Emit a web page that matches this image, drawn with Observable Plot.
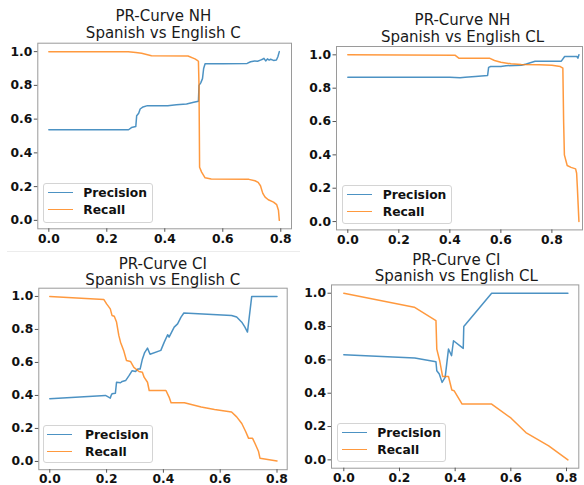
<!DOCTYPE html>
<html><head><meta charset="utf-8">
<script src="https://cdn.jsdelivr.net/npm/d3@7"></script>
<script src="https://cdn.jsdelivr.net/npm/@observablehq/plot@0.6"></script>
<style>
html,body{margin:0;padding:0;background:#fff;}
#root{position:relative;width:584px;height:485px;overflow:hidden;font-family:"DejaVu Sans",sans-serif;background:#fff;}
.panel{position:absolute;}
.title{position:absolute;transform:translate(-50%,-50%);font-size:15px;white-space:pre;text-align:center;color:#1a1a1a;}
.legend{position:absolute;background:#fff;border:1px solid #d4d4d4;border-radius:3px;box-sizing:border-box;}
.lgline{position:absolute;height:0;border-top:1.8px solid;opacity:0.8;}
.lgtext{position:absolute;transform:translateY(-50%);font-size:12.3px;font-weight:bold;color:#111;line-height:1;white-space:nowrap;}
.sep{position:absolute;height:1px;background:#ececec;}
</style>
</head><body>
<div id="root"></div>
<script>
// ---- text ----
const titleLine1 = ["PR-Curve NH", "PR-Curve NH", "PR-Curve CI", "PR-Curve CI"];
const titleLine2 = ["Spanish vs English C", "Spanish vs English CL", "Spanish vs English C", "Spanish vs English CL"];
const seriesNames = ["Precision", "Recall"];
const seriesColors = ["#1f77b4", "#ff7f0e"];
const xTicks = [0, 0.2, 0.4, 0.6, 0.8];
const yTicks = [0, 0.2, 0.4, 0.6, 0.8, 1.0];

// ---- NH, Spanish vs English C ----
const nhC_precisionX = [0, 0.275, 0.285, 0.30, 0.303, 0.31, 0.315, 0.325, 0.34, 0.41, 0.44, 0.475, 0.50, 0.516, 0.518, 0.524, 0.530, 0.534, 0.539, 0.60, 0.684, 0.696, 0.71, 0.72, 0.73, 0.737, 0.742, 0.748, 0.754, 0.76, 0.765, 0.775, 0.785, 0.79, 0.795];
const nhC_precisionY = [0.537, 0.537, 0.55, 0.556, 0.62, 0.635, 0.66, 0.672, 0.68, 0.68, 0.685, 0.69, 0.70, 0.706, 0.80, 0.815, 0.84, 0.90, 0.928, 0.928, 0.93, 0.94, 0.945, 0.943, 0.95, 0.955, 0.96, 0.945, 0.957, 0.95, 0.955, 0.948, 0.95, 0.97, 1.0];
const nhC_recallX = [0, 0.274, 0.30, 0.32, 0.354, 0.48, 0.504, 0.512, 0.516, 0.518, 0.520, 0.527, 0.539, 0.56, 0.69, 0.711, 0.722, 0.73, 0.738, 0.746, 0.757, 0.775, 0.786, 0.792, 0.795];
const nhC_recallY = [1.0, 1.0, 0.995, 0.99, 0.976, 0.974, 0.957, 0.948, 0.943, 0.80, 0.315, 0.286, 0.252, 0.245, 0.243, 0.235, 0.225, 0.205, 0.16, 0.138, 0.122, 0.108, 0.093, 0.06, 0.0];

// ---- NH, Spanish vs English CL ----
const nhCL_precisionX = [0, 0.40, 0.44, 0.46, 0.50, 0.548, 0.552, 0.56, 0.60, 0.62, 0.68, 0.70, 0.734, 0.80, 0.837, 0.85, 0.88, 0.898, 0.902, 0.906];
const nhCL_precisionY = [0.866, 0.866, 0.862, 0.865, 0.87, 0.876, 0.925, 0.93, 0.93, 0.935, 0.937, 0.945, 0.962, 0.962, 0.962, 0.99, 0.99, 0.99, 0.98, 1.0];
const nhCL_recallX = [0, 0.42, 0.435, 0.555, 0.575, 0.60, 0.64, 0.68, 0.75, 0.80, 0.833, 0.843, 0.846, 0.849, 0.86, 0.875, 0.893, 0.897, 0.90, 0.903, 0.906];
const nhCL_recallY = [1.0, 0.998, 0.98, 0.98, 0.966, 0.956, 0.946, 0.942, 0.94, 0.938, 0.93, 0.92, 0.60, 0.40, 0.336, 0.325, 0.316, 0.29, 0.2, 0.1, 0.0];

// ---- CI, Spanish vs English C ----
const ciC_precisionX = [0, 0.196, 0.207, 0.213, 0.216, 0.219, 0.231, 0.235, 0.249, 0.255, 0.267, 0.279, 0.29, 0.302, 0.31, 0.318, 0.326, 0.334, 0.344, 0.353, 0.391, 0.403, 0.415, 0.42, 0.429, 0.438, 0.45, 0.462, 0.472, 0.64, 0.658, 0.676, 0.687, 0.696, 0.711, 0.80];
const ciC_precisionY = [0.38, 0.40, 0.39, 0.384, 0.40, 0.41, 0.414, 0.48, 0.477, 0.485, 0.49, 0.52, 0.55, 0.545, 0.56, 0.56, 0.62, 0.66, 0.687, 0.65, 0.673, 0.723, 0.768, 0.753, 0.784, 0.814, 0.834, 0.875, 0.90, 0.885, 0.875, 0.844, 0.814, 0.784, 1.0, 1.0];
const ciC_recallX = [0, 0.19, 0.2, 0.213, 0.219, 0.227, 0.235, 0.243, 0.249, 0.26, 0.27, 0.284, 0.296, 0.314, 0.326, 0.332, 0.344, 0.35, 0.409, 0.42, 0.427, 0.474, 0.533, 0.58, 0.64, 0.658, 0.676, 0.69, 0.70, 0.714, 0.723, 0.735, 0.74, 0.80];
const ciC_recallY = [1.0, 0.982, 0.955, 0.925, 0.885, 0.88, 0.845, 0.764, 0.723, 0.673, 0.612, 0.606, 0.57, 0.545, 0.541, 0.511, 0.48, 0.43, 0.43, 0.39, 0.356, 0.356, 0.33, 0.315, 0.30, 0.27, 0.23, 0.18, 0.14, 0.14, 0.107, 0.06, 0.02, 0.003];

// ---- CI, Spanish vs English CL ----
const ciCL_precisionX = [0, 0.255, 0.331, 0.334, 0.343, 0.353, 0.364, 0.376, 0.387, 0.394, 0.429, 0.431, 0.531, 0.805];
const ciCL_precisionY = [0.631, 0.611, 0.589, 0.535, 0.515, 0.465, 0.495, 0.665, 0.625, 0.715, 0.669, 0.80, 1.0, 1.0];
const ciCL_recallX = [0, 0.253, 0.331, 0.334, 0.345, 0.355, 0.376, 0.388, 0.396, 0.425, 0.531, 0.601, 0.654, 0.736, 0.805];
const ciCL_recallY = [1.0, 0.916, 0.836, 0.665, 0.59, 0.50, 0.50, 0.419, 0.415, 0.335, 0.335, 0.25, 0.164, 0.084, 0.0];

const seriesX = [[nhC_precisionX, nhC_recallX], [nhCL_precisionX, nhCL_recallX], [ciC_precisionX, ciC_recallX], [ciCL_precisionX, ciCL_recallX]];
const seriesY = [[nhC_precisionY, nhC_recallY], [nhCL_precisionY, nhCL_recallY], [ciC_precisionY, ciC_recallY], [ciCL_precisionY, ciCL_recallY]];

// ---- layout (pixel geometry of each subplot) ----
const layout = [
  {left: 0, top: 0, w: 300, h: 245, frame: [37.3, 291, 42.7, 228.3], xDomain: [-0.038, 0.837],
   title: [163.3, 25.5, 17.6], legend: {box: [43.3, 182.7, 110, 40], line: [48.3, 25], rows: [192.7, 210], text: 83.3}},
  {left: 292, top: 0, w: 292, h: 245, frame: [336, 582, 46, 229.4], xDomain: [-0.0443, 0.920],
   title: [462.5, 29, 16.6], legend: {box: [341.7, 185, 110, 39], line: [347.3, 24.4], rows: [195, 211.7], text: 382.7}},
  {left: 0, top: 245, w: 300, h: 240, frame: [38.3, 286.7, 287.7, 469.2], xDomain: [-0.0387, 0.8359],
   title: [162.8, 272, 16], legend: {box: [43.3, 425, 110, 38], line: [46.7, 25], rows: [435, 451.7], text: 85}},
  {left: 292, top: 245, w: 292, h: 240, frame: [331, 578.3, 284.4, 467.7], xDomain: [-0.0442, 0.8441],
   title: [456.3, 268, 16], legend: {box: [336.7, 422.7, 109.3, 39], line: [341.7, 25], rows: [433.3, 450], text: 377.3}}
];

const root = document.getElementById("root");
const sep = document.createElement("div");
sep.className = "sep";
sep.style.left = "7px"; sep.style.top = "251px"; sep.style.width = "293px";
root.appendChild(sep);

layout.forEach((L, i) => {
  const [fl, fr, ft, fb] = L.frame;
  const lines = [0, 1].map(s => {
    const data = seriesX[i][s].map((x, k) => ({x, y: seriesY[i][s][k]}));
    return Plot.line(data, {x: "x", y: "y", stroke: seriesColors[s], strokeWidth: 1.5, strokeOpacity: 0.8});
  });
  const svg = Plot.plot({
    width: L.w, height: L.h,
    marginLeft: fl - L.left, marginRight: L.left + L.w - fr,
    marginTop: ft - L.top, marginBottom: L.top + L.h - fb,
    x: {domain: L.xDomain, label: null},
    y: {domain: [-0.05, 1.05], label: null},
    style: {fontFamily: "DejaVu Sans", fontSize: "12.3px", fontWeight: "bold", color: "#111", background: "transparent", overflow: "visible"},
    marks: [
      ...lines,
      Plot.frame({stroke: "#9a9a9a", strokeWidth: 1}),
      Plot.axisX(xTicks, {tickSize: 3.5, tickPadding: 1.5, tickFormat: d3.format(".1f"), stroke: "#555", label: null}),
      Plot.axisY(yTicks, {tickSize: 3.5, tickPadding: 2, tickFormat: d3.format(".1f"), stroke: "#555", label: null})
    ]
  });
  svg.classList.add("panel");
  svg.style.left = L.left + "px";
  svg.style.top = L.top + "px";
  root.appendChild(svg);

  const d = document.createElement("div");
  d.className = "title";
  d.textContent = titleLine1[i] + "\n" + titleLine2[i];
  d.style.left = L.title[0] + "px";
  d.style.top = L.title[1] + "px";
  d.style.lineHeight = L.title[2] + "px";
  root.appendChild(d);

  const lg = L.legend;
  const box = document.createElement("div");
  box.className = "legend";
  box.style.left = lg.box[0] + "px"; box.style.top = lg.box[1] + "px";
  box.style.width = lg.box[2] + "px"; box.style.height = lg.box[3] + "px";
  root.appendChild(box);
  seriesNames.forEach((name, s) => {
    const ln = document.createElement("div");
    ln.className = "lgline";
    ln.style.left = lg.line[0] + "px"; ln.style.width = lg.line[1] + "px";
    ln.style.top = (lg.rows[s] - 0.9) + "px";
    ln.style.borderTopColor = seriesColors[s];
    root.appendChild(ln);
    const tx = document.createElement("div");
    tx.className = "lgtext";
    tx.textContent = name;
    tx.style.left = lg.text + "px"; tx.style.top = lg.rows[s] + "px";
    root.appendChild(tx);
  });
});
</script>
</body></html>
